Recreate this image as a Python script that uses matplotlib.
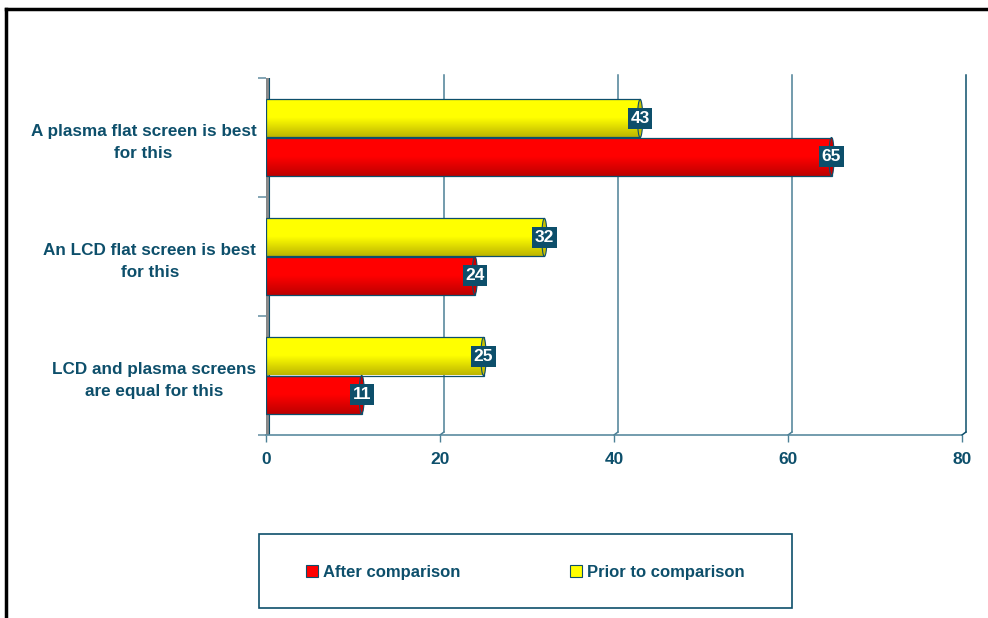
import numpy as np
import matplotlib
matplotlib.use("Agg")
from matplotlib import pyplot as plt
from matplotlib.patches import Rectangle, Ellipse, Patch, ConnectionPatch
from matplotlib.lines import Line2D
from matplotlib.colors import LinearSegmentedColormap
from matplotlib.transforms import offset_copy

plt.rcParams['font.family'] = ['Liberation Sans', 'DejaVu Sans']
plt.rcParams['font.weight'] = 'bold'

categories = ["A plasma flat screen is best\nfor this",
              "An LCD flat screen is best\nfor this",
              "LCD and plasma screens\nare equal for this"]
prior = [43, 32, 25]
after = [65, 24, 11]
xticks = [0, 20, 40, 60, 80]

teal = '#0D4F6B'
grid_col = '#4C8096'

fig = plt.figure(figsize=(9.88, 6.18), dpi=100)
W, H = 988, 618
ax = fig.add_axes([266 / W, 1 - 435 / H, (962 - 266) / W, (435 - 78) / H])

y = np.arange(len(categories))
bh = 0.32

ax.set_xlim(0, 80)
ax.set_ylim(len(categories) - 0.5, -0.5)

# back wall gridlines, shifted up/right for the 3D look
back = offset_copy(ax.transData, fig=fig, x=4, y=3, units='dots')
for xv in xticks[1:]:
    c = teal if xv == 80 else grid_col
    ax.plot([xv, xv], [len(categories) - 0.5, -0.5], transform=back,
            color=c, lw=1.1, zorder=1, clip_on=False)
    cp = ConnectionPatch(xyA=(xv, len(categories) - 0.5), coordsA=ax.transData,
                         xyB=(xv, len(categories) - 0.5), coordsB=back,
                         color=c, lw=1.1)
    fig.add_artist(cp)

# left wall
wall = Rectangle((-1 / 696, 0), 4 / 696, 1 + 3 / 357, transform=ax.transAxes,
                 facecolor='#8A8A8A', edgecolor=teal, lw=0.8, zorder=2)
ax.add_patch(wall)


def cylinder(bars, top, bottom, cap):
    cmap = LinearSegmentedColormap.from_list('c', [top, top, bottom])
    grad = np.linspace(0, 1, 64).reshape(-1, 1)
    for b in bars:
        x0, y0 = b.get_x(), b.get_y()
        w, h = b.get_width(), b.get_height()
        im = ax.imshow(grad, cmap=cmap, aspect='auto', zorder=3,
                       extent=(x0, x0 + w, y0 + h, y0), origin='upper')
        im.set_clip_path(b)
        ax.add_patch(Ellipse((x0 + w, y0 + h / 2), 0.6, h, facecolor=cap,
                             edgecolor=teal, lw=0.8, zorder=4))


bars_prior = ax.barh(y - bh / 2, prior, height=bh, color='none',
                     edgecolor=teal, lw=0.9, zorder=3.5)
bars_after = ax.barh(y + bh / 2, after, height=bh, color='none',
                     edgecolor=teal, lw=0.9, zorder=3.5)
cylinder(bars_prior, '#FFFF00', '#BDB600', '#C8C000')
cylinder(bars_after, '#FF0000', '#BE0000', '#C80000')

for yy, v in zip(y - bh / 2, prior):
    ax.text(v, yy, str(v), ha='center', va='center', color='white',
            fontsize=12.5, fontweight='bold', zorder=6,
            bbox=dict(boxstyle='square,pad=0.15', fc=teal, ec='none'))
for yy, v in zip(y + bh / 2, after):
    ax.text(v, yy, str(v), ha='center', va='center', color='white',
            fontsize=12.5, fontweight='bold', zorder=6,
            bbox=dict(boxstyle='square,pad=0.15', fc=teal, ec='none'))

for s in ['top', 'right', 'left']:
    ax.spines[s].set_visible(False)
ax.spines['bottom'].set_color('#5B8BA0')
ax.spines['bottom'].set_linewidth(1.2)

ax.set_xticks(xticks)
ax.tick_params(axis='x', colors=grid_col, labelcolor=teal, labelsize=12.5,
               length=5, width=1, pad=7)
for t in ax.get_xticklabels():
    t.set_fontweight('bold')

ax.set_yticks(y)
ax.set_yticklabels(categories, multialignment='center', linespacing=1.6)
ax.set_yticks(np.arange(-0.5, len(categories), 1), minor=True)
ax.tick_params(axis='y', which='major', length=0, pad=7,
               labelcolor=teal, labelsize=12.3)
ax.tick_params(axis='y', which='minor', length=6, width=1.2, color='#6E96A8')
for t in ax.get_yticklabels():
    t.set_fontweight('bold')

# legend box
fig.add_artist(Rectangle((259 / W, 1 - 608 / H), 533 / W, 74 / H,
                         transform=fig.transFigure, fill=False,
                         edgecolor=teal, lw=1.2))
handles = [Patch(facecolor='#FF0000', edgecolor=teal, lw=0.8, label='After comparison'),
           Patch(facecolor='#FFFF00', edgecolor=teal, lw=0.8, label='Prior to comparison')]
leg = fig.legend(handles=handles, loc='center', ncol=2, frameon=False,
                 bbox_to_anchor=(525 / W, 1 - 572 / H),
                 handlelength=0.7, handleheight=0.7, handletextpad=0.3,
                 columnspacing=6.6, prop={'size': 12, 'weight': 'bold'})
for t in leg.get_texts():
    t.set_color(teal)

# outer frame (top and left edges)
fig.add_artist(Line2D([6 / W, 1], [1 - 9 / H, 1 - 9 / H], color='black', lw=2.5))
fig.add_artist(Line2D([6 / W, 6 / W], [0, 1 - 9 / H], color='black', lw=2.5))

fig.savefig('out.png', dpi=100)
